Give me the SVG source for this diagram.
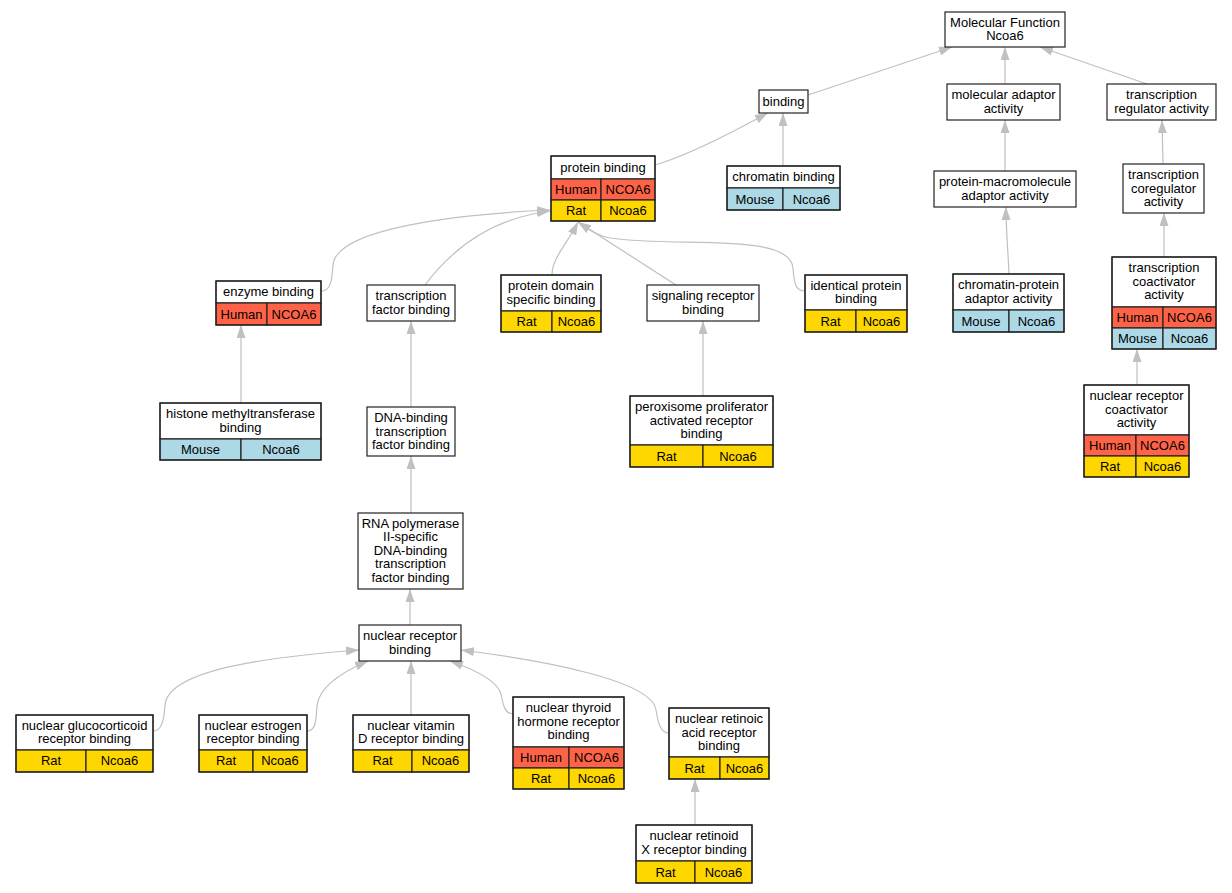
<svg xmlns="http://www.w3.org/2000/svg" width="1232" height="893" viewBox="0 0 1232 893">
<style>
.b{fill:#fff;stroke:#222;stroke-width:1.2}
.o{fill:none;stroke:#222;stroke-width:1.2}
.h{fill:#ff6347;stroke:#222;stroke-width:1.2}
.r{fill:#ffd700;stroke:#222;stroke-width:1.2}
.m{fill:#add8e6;stroke:#222;stroke-width:1.2}
text{font-family:"Liberation Sans",Arial,sans-serif;font-size:13px;text-anchor:middle;fill:#000}
.e{fill:none;stroke:#c0c0c0;stroke-width:1.2;marker-end:url(#a)}
</style>
<defs>
<marker id="a" markerUnits="userSpaceOnUse" markerWidth="13" markerHeight="9" viewBox="0 0 13 9" refX="13" refY="4.5" orient="auto">
<path d="M0,0 L13,4.5 L0,9 z" fill="#c0c0c0"/>
</marker>
</defs>
<rect width="1232" height="893" fill="#fff"/>
<g id="edges">
<path class="e" d="M808,95 L952,47"/>
<path class="e" d="M1005,84 L1005,47"/>
<path class="e" d="M1147,84 L1040,47"/>
<path class="e" d="M655,165 C690,155 740,128 768,113"/>
<path class="e" d="M783,166 L783,113"/>
<path class="e" d="M1005,171 L1005,120"/>
<path class="e" d="M1009,274 C1008,250 1006,230 1006,207"/>
<path class="e" d="M1163,164 L1162,120"/>
<path class="e" d="M1164,257 L1164,213"/>
<path class="e" d="M1137,385 L1137,349"/>
<path class="e" d="M321,291 C331,291 332,280 333,265 C336,228 460,214 550,210"/>
<path class="e" d="M425,285 C455,245 495,218 550,211"/>
<path class="e" d="M552,275 C552,258 566,246 578,222"/>
<path class="e" d="M676,285 L578,222"/>
<path class="e" d="M805,291 C795,291 794,282 793,268 C790,232 680,248 610,238 C598,236 590,230 578,222"/>
<path class="e" d="M241,403 L241,325"/>
<path class="e" d="M411,407 L411,321"/>
<path class="e" d="M703,396 L703,321"/>
<path class="e" d="M411,513 L411,456"/>
<path class="e" d="M410,625 L410,589"/>
<path class="e" d="M153,731 C162,731 164,720 165,705 C168,668 280,656 359,650"/>
<path class="e" d="M307,731 C316,731 316,720 317,706 C319,686 342,672 368,661"/>
<path class="e" d="M411,715 L411,661"/>
<path class="e" d="M513,714 C505,714 503,705 501,694 C497,680 470,668 450,661"/>
<path class="e" d="M669,733 C660,733 658,722 656,710 C652,680 540,660 461,650"/>
<path class="e" d="M695,825 L695,779"/>
</g>
<g id="mf"><rect class="b" x="945" y="12" width="120" height="35"/><text x="1005" y="26.5">Molecular Function</text><text x="1005" y="40">Ncoa6</text></g>
<g id="binding"><rect class="b" x="759" y="90" width="49" height="23"/><text x="783.5" y="105.5">binding</text></g>
<g id="molecular_adaptor"><rect class="b" x="947" y="84" width="113" height="36"/><text x="1003.5" y="99">molecular adaptor</text><text x="1003.5" y="112.5">activity</text></g>
<g id="transcription_regulator"><rect class="b" x="1107" y="84" width="109" height="36"/><text x="1161.5" y="99">transcription</text><text x="1161.5" y="112.5">regulator activity</text></g>
<g id="protein_binding"><rect class="b" x="551" y="156" width="104" height="23"/><rect class="h" x="551" y="179" width="50" height="21"/><rect class="h" x="601" y="179" width="54" height="21"/><rect class="r" x="551" y="200" width="50" height="21"/><rect class="r" x="601" y="200" width="54" height="21"/><rect class="o" x="551" y="156" width="104" height="65"/><text x="603" y="171.5">protein binding</text><text x="576" y="194">Human</text><text x="628" y="194">NCOA6</text><text x="576" y="215">Rat</text><text x="628" y="215">Ncoa6</text></g>
<g id="chromatin_binding"><rect class="b" x="727" y="166" width="113" height="22"/><rect class="m" x="727" y="188" width="56" height="22"/><rect class="m" x="783" y="188" width="57" height="22"/><rect class="o" x="727" y="166" width="113" height="44"/><text x="783.5" y="181">chromatin binding</text><text x="755" y="203.5">Mouse</text><text x="811.5" y="203.5">Ncoa6</text></g>
<g id="protein_macromolecule"><rect class="b" x="934" y="171" width="142" height="36"/><text x="1005" y="186">protein-macromolecule</text><text x="1005" y="199.5">adaptor activity</text></g>
<g id="chromatin_protein"><rect class="b" x="953" y="274" width="111" height="36"/><rect class="m" x="953" y="310" width="56" height="22"/><rect class="m" x="1009" y="310" width="55" height="22"/><rect class="o" x="953" y="274" width="111" height="58"/><text x="1008.5" y="289">chromatin-protein</text><text x="1008.5" y="302.5">adaptor activity</text><text x="981" y="325.5">Mouse</text><text x="1036.5" y="325.5">Ncoa6</text></g>
<g id="coregulator"><rect class="b" x="1123" y="164" width="81" height="49"/><text x="1163.5" y="179">transcription</text><text x="1163.5" y="192.5">coregulator</text><text x="1163.5" y="206">activity</text></g>
<g id="coactivator"><rect class="b" x="1112" y="257" width="104" height="50"/><rect class="h" x="1112" y="307" width="51" height="21"/><rect class="h" x="1163" y="307" width="53" height="21"/><rect class="m" x="1112" y="328" width="51" height="21"/><rect class="m" x="1163" y="328" width="53" height="21"/><rect class="o" x="1112" y="257" width="104" height="92"/><text x="1164" y="272">transcription</text><text x="1164" y="285.5">coactivator</text><text x="1164" y="299">activity</text><text x="1137.5" y="322">Human</text><text x="1189.5" y="322">NCOA6</text><text x="1137.5" y="343">Mouse</text><text x="1189.5" y="343">Ncoa6</text></g>
<g id="nr_coactivator"><rect class="b" x="1084" y="385" width="105" height="50"/><rect class="h" x="1084" y="435" width="52" height="21"/><rect class="h" x="1136" y="435" width="53" height="21"/><rect class="r" x="1084" y="456" width="52" height="21"/><rect class="r" x="1136" y="456" width="53" height="21"/><rect class="o" x="1084" y="385" width="105" height="92"/><text x="1136.5" y="400">nuclear receptor</text><text x="1136.5" y="413.5">coactivator</text><text x="1136.5" y="427">activity</text><text x="1110" y="450">Human</text><text x="1162.5" y="450">NCOA6</text><text x="1110" y="471">Rat</text><text x="1162.5" y="471">Ncoa6</text></g>
<g id="enzyme_binding"><rect class="b" x="216" y="281" width="105" height="22"/><rect class="h" x="216" y="303" width="51" height="22"/><rect class="h" x="267" y="303" width="54" height="22"/><rect class="o" x="216" y="281" width="105" height="44"/><text x="268.5" y="296">enzyme binding</text><text x="241.5" y="318.5">Human</text><text x="294" y="318.5">NCOA6</text></g>
<g id="tf_binding"><rect class="b" x="367" y="285" width="88" height="36"/><text x="411" y="300">transcription</text><text x="411" y="313.5">factor binding</text></g>
<g id="protein_domain"><rect class="b" x="501" y="275" width="100" height="36"/><rect class="r" x="501" y="311" width="51" height="21"/><rect class="r" x="552" y="311" width="49" height="21"/><rect class="o" x="501" y="275" width="100" height="57"/><text x="551" y="290">protein domain</text><text x="551" y="303.5">specific binding</text><text x="526.5" y="326">Rat</text><text x="576.5" y="326">Ncoa6</text></g>
<g id="signaling_receptor"><rect class="b" x="647" y="285" width="112" height="36"/><text x="703" y="300">signaling receptor</text><text x="703" y="313.5">binding</text></g>
<g id="identical_protein"><rect class="b" x="805" y="275" width="102" height="35"/><rect class="r" x="805" y="310" width="51" height="22"/><rect class="r" x="856" y="310" width="51" height="22"/><rect class="o" x="805" y="275" width="102" height="57"/><text x="856" y="289.5">identical protein</text><text x="856" y="303">binding</text><text x="830.5" y="325.5">Rat</text><text x="881.5" y="325.5">Ncoa6</text></g>
<g id="histone"><rect class="b" x="160" y="403" width="161" height="36"/><rect class="m" x="160" y="439" width="81" height="21"/><rect class="m" x="241" y="439" width="80" height="21"/><rect class="o" x="160" y="403" width="161" height="57"/><text x="240.5" y="418">histone methyltransferase</text><text x="240.5" y="431.5">binding</text><text x="200.5" y="454">Mouse</text><text x="281" y="454">Ncoa6</text></g>
<g id="dna_binding_tf"><rect class="b" x="367" y="407" width="88" height="49"/><text x="411" y="422">DNA-binding</text><text x="411" y="435.5">transcription</text><text x="411" y="449">factor binding</text></g>
<g id="peroxisome"><rect class="b" x="630" y="396" width="143" height="49"/><rect class="r" x="630" y="445" width="73" height="22"/><rect class="r" x="703" y="445" width="70" height="22"/><rect class="o" x="630" y="396" width="143" height="71"/><text x="701.5" y="411">peroxisome proliferator</text><text x="701.5" y="424.5">activated receptor</text><text x="701.5" y="438">binding</text><text x="666.5" y="460.5">Rat</text><text x="738" y="460.5">Ncoa6</text></g>
<g id="rna_pol"><rect class="b" x="358" y="513" width="105" height="76"/><text x="410.5" y="527.5">RNA polymerase</text><text x="410.5" y="541">II-specific</text><text x="410.5" y="554.5">DNA-binding</text><text x="410.5" y="568">transcription</text><text x="410.5" y="581.5">factor binding</text></g>
<g id="nr_binding"><rect class="b" x="359" y="625" width="102" height="36"/><text x="410" y="640">nuclear receptor</text><text x="410" y="653.5">binding</text></g>
<g id="glucocorticoid"><rect class="b" x="16" y="715" width="137" height="35"/><rect class="r" x="16" y="750" width="70" height="22"/><rect class="r" x="86" y="750" width="67" height="22"/><rect class="o" x="16" y="715" width="137" height="57"/><text x="84.5" y="729.5">nuclear glucocorticoid</text><text x="84.5" y="743">receptor binding</text><text x="51" y="765">Rat</text><text x="119.5" y="765">Ncoa6</text></g>
<g id="estrogen"><rect class="b" x="199" y="715" width="108" height="35"/><rect class="r" x="199" y="750" width="54" height="22"/><rect class="r" x="253" y="750" width="54" height="22"/><rect class="o" x="199" y="715" width="108" height="57"/><text x="253" y="729.5">nuclear estrogen</text><text x="253" y="743">receptor binding</text><text x="226" y="765">Rat</text><text x="280" y="765">Ncoa6</text></g>
<g id="vitamin_d"><rect class="b" x="353" y="715" width="116" height="35"/><rect class="r" x="353" y="750" width="59" height="22"/><rect class="r" x="412" y="750" width="57" height="22"/><rect class="o" x="353" y="715" width="116" height="57"/><text x="411" y="729.5">nuclear vitamin</text><text x="411" y="743">D receptor binding</text><text x="382.5" y="765">Rat</text><text x="440.5" y="765">Ncoa6</text></g>
<g id="thyroid"><rect class="b" x="513" y="697" width="111" height="50"/><rect class="h" x="513" y="747" width="56" height="21"/><rect class="h" x="569" y="747" width="55" height="21"/><rect class="r" x="513" y="768" width="56" height="21"/><rect class="r" x="569" y="768" width="55" height="21"/><rect class="o" x="513" y="697" width="111" height="92"/><text x="568.5" y="712">nuclear thyroid</text><text x="568.5" y="725.5">hormone receptor</text><text x="568.5" y="739">binding</text><text x="541" y="762">Human</text><text x="596.5" y="762">NCOA6</text><text x="541" y="783">Rat</text><text x="596.5" y="783">Ncoa6</text></g>
<g id="retinoic"><rect class="b" x="669" y="708" width="100" height="49"/><rect class="r" x="669" y="757" width="51" height="22"/><rect class="r" x="720" y="757" width="49" height="22"/><rect class="o" x="669" y="708" width="100" height="71"/><text x="719" y="723">nuclear retinoic</text><text x="719" y="736.5">acid receptor</text><text x="719" y="750">binding</text><text x="694.5" y="772.5">Rat</text><text x="744.5" y="772.5">Ncoa6</text></g>
<g id="retinoid_x"><rect class="b" x="636" y="825" width="116" height="36"/><rect class="r" x="636" y="861" width="59" height="22"/><rect class="r" x="695" y="861" width="57" height="22"/><rect class="o" x="636" y="825" width="116" height="58"/><text x="694" y="840">nuclear retinoid</text><text x="694" y="853.5">X receptor binding</text><text x="665.5" y="876.5">Rat</text><text x="723.5" y="876.5">Ncoa6</text></g>
</svg>
